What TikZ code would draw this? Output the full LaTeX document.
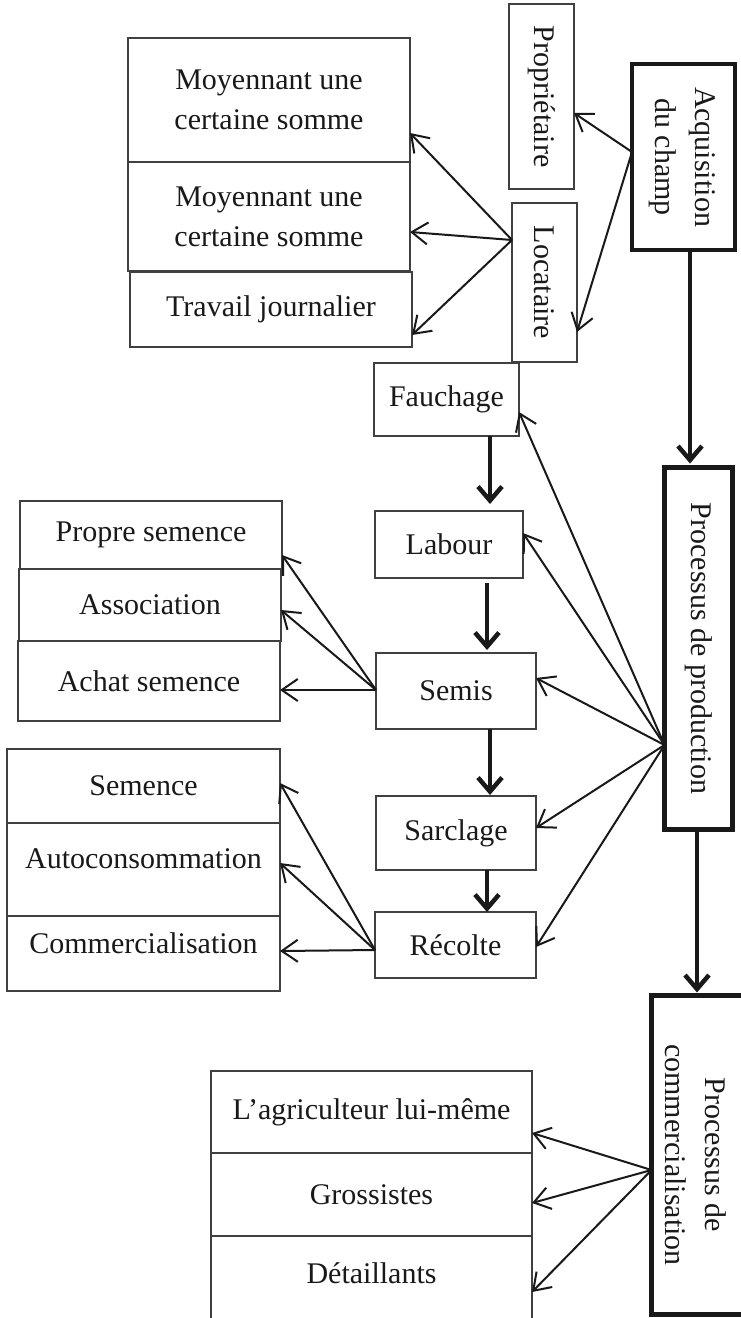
\documentclass[tikz,border=0pt]{standalone}
\usepackage{graphicx}
\usepackage{fontspec}
\setmainfont{Liberation Serif}
\usetikzlibrary{arrows.meta}
\begin{document}
\begin{tikzpicture}[x=1pt,y=-1pt,
  tbox/.style={draw=black!75, line width=1.2pt, inner sep=0pt, outer sep=0pt, align=center, text=black!90, font=\fontsize{30}{40}\selectfont},
  kbox/.style={tbox, draw=black!90, line width=4.5pt},
  arr/.style={draw=black!90, line width=2pt, -{Straight Barb[length=16pt,width=22pt]}},
  bigarr/.style={draw=black!90, line width=4.5pt, -{Straight Barb[length=14pt,width=24pt]}},
]
\useasboundingbox (0,0) rectangle (741,1318);
\clip (0,0) rectangle (741,1318);

% top: acquisition
\node[tbox, minimum width=282pt, minimum height=124pt] (m1) at (269,100) {Moyennant une\\certaine somme};
\node[tbox, minimum width=282pt, minimum height=109pt] (m2) at (269,216.5) {Moyennant une\\certaine somme};
\node[tbox, minimum width=282pt, minimum height=75pt] (tj) at (271,309.5) {Travail journalier};
\node[tbox, minimum width=65pt, minimum height=185pt] (prop) at (541.5,96.5) {\rotatebox{-90}{Propriétaire}};
\node[tbox, minimum width=65pt, minimum height=159pt] (loc) at (544.5,282.5) {\rotatebox{-90}{Locataire}};
\node[kbox, minimum width=103pt, minimum height=186pt] (acq) at (683.5,157) {\rotatebox{-90}{\begin{tabular}{@{}c@{}}Acquisition\\du champ\end{tabular}}};

% production
\node[kbox, minimum width=68pt, minimum height=362pt] (prod) at (698.5,648.5) {\rotatebox{-90}{Processus de production}};
\node[tbox, minimum width=145pt, minimum height=73pt] (fau) at (446.5,399.5) {Fauchage};
\node[tbox, minimum width=148pt, minimum height=67pt] (lab) at (449,544.5) {Labour};
\node[tbox, minimum width=160pt, minimum height=76pt] (sem) at (456,691) {Semis};
\node[tbox, minimum width=160pt, minimum height=74pt] (sar) at (456,833) {Sarclage};
\node[tbox, minimum width=161pt, minimum height=66pt] (rec) at (455.5,945) {Récolte};

\node[tbox, minimum width=262pt, minimum height=68pt] (ps) at (151,535) {Propre semence};
\node[tbox, minimum width=262pt, minimum height=72pt] (as) at (150,605) {Association};
\node[tbox, minimum width=262pt, minimum height=80pt] (ach) at (149,681) {Achat semence};

\node[tbox, minimum width=273pt, minimum height=74pt] (se) at (143.5,786) {Semence};
\node[tbox, minimum width=273pt, minimum height=93pt, text height=21pt, text depth=24pt] (au) at (143.5,869.5) {Autoconsommation};
\node[tbox, minimum width=273pt, minimum height=75pt, text height=21pt, text depth=21pt] (co) at (143.5,953.5) {Commercialisation};

% commercialisation
\node[kbox, minimum width=110pt, minimum height=319pt] (com) at (706.5,1155) {\hbox{\rotatebox{-90}{\begin{tabular}{@{}c@{}}Processus de\\commercialisation\end{tabular}}\kern27pt}};
\node[tbox, minimum width=321pt, minimum height=82pt] (agri) at (371.5,1112) {L’agriculteur lui-même};
\node[tbox, minimum width=321pt, minimum height=83pt] (gro) at (371.5,1194.5) {Grossistes};
\node[tbox, minimum width=321pt, minimum height=94pt, text height=21pt, text depth=21pt] (det) at (371.5,1283) {Détaillants};

% thin arrows
\draw[arr] (acq.west |- 0,152) -- (prop.east |- 0,113);
\draw[arr] (acq.west |- 0,152) -- (loc.east |- 0,332);
\draw[arr] (loc.west |- 0,240) -- (m1.east |- 0,133);
\draw[arr] (loc.west |- 0,240) -- (m2.east |- 0,232);
\draw[arr] (loc.west |- 0,240) -- (tj.east |- 0,335);

\draw[arr] (prod.west |- 0,745) -- (fau.east |- 0,412);
\draw[arr] (prod.west |- 0,745) -- (lab.east |- 0,533);
\draw[arr] (prod.west |- 0,745) -- (sem.east |- 0,678);
\draw[arr] (prod.west |- 0,745) -- (sar.east |- 0,828);
\draw[arr] (prod.west |- 0,745) -- (rec.east |- 0,947);

\draw[arr] (sem.west |- 0,690) -- (ps.east |- 0,555);
\draw[arr] (sem.west |- 0,690) -- (as.east |- 0,610);
\draw[arr] (sem.west |- 0,690) -- (ach.east |- 0,690);

\draw[arr] (rec.west |- 0,950) -- (se.east |- 0,783);
\draw[arr] (rec.west |- 0,950) -- (au.east |- 0,863);
\draw[arr] (rec.west |- 0,950) -- (co.east |- 0,951);

\draw[arr] (com.west |- 0,1170) -- (agri.east |- 0,1133);
\draw[arr] (com.west |- 0,1170) -- (gro.east |- 0,1203);
\draw[arr] (com.west |- 0,1170) -- (det.east |- 0,1292);

% thick arrows
\draw[bigarr, shorten >=4pt] (acq.south -| 690,0) -- (prod.north -| 690,0);
\draw[bigarr, shorten >=3pt] (prod.south -| 697,0) -- (com.north -| 697,0);
\draw[bigarr, shorten >=7pt] (fau.south -| 490,0) -- (lab.north -| 490,0);
\draw[bigarr, shorten <=5pt, shorten >=3pt] (lab.south -| 487,0) -- (sem.north -| 487,0);
\draw[bigarr, shorten >=1pt] (sem.south -| 490,0) -- (sar.north -| 490,0);
\draw[bigarr] (sar.south -| 487,0) -- (rec.north -| 487,0);
\end{tikzpicture}
\end{document}
